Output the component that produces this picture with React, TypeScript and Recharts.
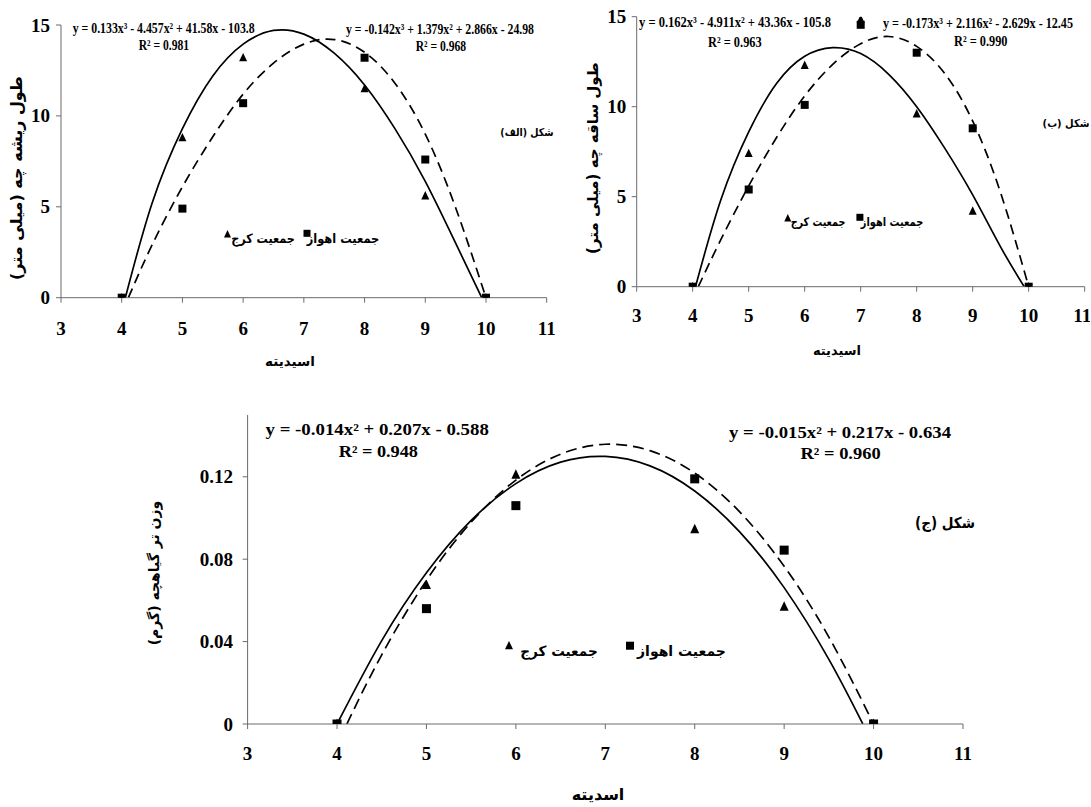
import React from 'react';
import { ComposedChart, Line, Scatter, XAxis, YAxis } from 'recharts';

// pH levels where seedlings were measured
const xKarajA = [4, 5, 6, 8, 9, 10];
const yKarajA = [0, 8.8, 13.2, 11.5, 5.6, 0];
const xAhvazA = [4, 5, 6, 8, 9, 10];
const yAhvazA = [0, 4.9, 10.7, 13.2, 7.6, 0];

const xKarajB = [4, 5, 6, 7, 8, 9, 10];
const yKarajB = [0, 7.4, 12.3, 14.85, 9.6, 4.2, 0];
const xAhvazB = [4, 5, 6, 7, 8, 9, 10];
const yAhvazB = [0, 5.4, 10.1, 14.55, 13.0, 8.8, 0];

const xKarajC = [4, 5, 6, 8, 9, 10];
const yKarajC = [0, 0.0675, 0.121, 0.0946, 0.057, 0];
const xAhvazC = [4, 5, 6, 8, 9, 10];
const yAhvazC = [0, 0.056, 0.106, 0.119, 0.0844, 0];

// trend lines
const xSolidA = [4.06, 4.5, 5, 5.5, 6, 6.5, 7, 7.5, 8, 8.5, 9, 9.5, 9.93];
const ySolidA = [0, 5.2, 9.3, 12.2, 13.95, 14.7, 14.5, 13.45, 11.7, 9.3, 6.4, 3.0, 0];
const xDashA = [4.11, 4.5, 5, 5.5, 6, 6.5, 7, 7.5, 8, 8.5, 9, 9.5, 10];
const yDashA = [0, 2.9, 6.1, 8.85, 11.2, 12.9, 13.95, 14.2, 13.5, 11.8, 9.0, 4.95, 0];

const xSolidB = [4.05, 4.5, 5, 5.5, 6, 6.5, 7, 7.5, 8, 8.5, 9, 9.5, 9.92];
const ySolidB = [0, 4.8, 8.6, 11.3, 12.8, 13.28, 12.95, 11.8, 10.0, 7.7, 5.1, 2.2, 0];
const xDashB = [4.1, 4.5, 5, 5.5, 6, 6.5, 7, 7.5, 8, 8.5, 9, 9.5, 10];
const yDashB = [0, 2.6, 5.6, 8.3, 10.6, 12.35, 13.5, 13.9, 13.35, 11.85, 9.2, 5.2, 0];

const xSolidC = [4, 4.5, 5, 5.5, 6, 6.5, 7, 7.5, 8, 8.5, 9, 9.5, 9.88];
const ySolidC = [0, 0.0405, 0.0734, 0.0988, 0.1167, 0.1271, 0.1299, 0.1253, 0.1131, 0.0934, 0.0662, 0.0314, 0];
const xDashC = [4.11, 4.5, 5, 5.5, 6, 6.5, 7, 7.5, 8, 8.5, 9, 9.5, 10];
const yDashC = [0, 0.0336, 0.0697, 0.098, 0.1184, 0.131, 0.1358, 0.1327, 0.1218, 0.1031, 0.0766, 0.0422, 0];

const xTicks = [3, 4, 5, 6, 7, 8, 9, 10, 11];
const lengthTicks = [0, 5, 10, 15];
const weightTicks = [0, 0.04, 0.08, 0.12];

const zip = (xs: number[], ys: number[]) => xs.map((x, i) => ({ x, y: ys[i] }));

const serif = '"Liberation Serif", "Times New Roman", serif';
const arabic = '"DejaVu Sans", sans-serif';
const axisColor = '#6b6b6b';

const triangle = (s: number) => (p: any) => (
  <path d={`M${p.cx},${p.cy - s * 0.6}L${p.cx + s / 2},${p.cy + s * 0.45}L${p.cx - s / 2},${p.cy + s * 0.45}Z`} fill="#000" />
);
const square = (s: number) => (p: any) => (
  <rect x={p.cx - s / 2} y={p.cy - s / 2} width={s} height={s} fill="#000" />
);

const xTick = (p: any) => (
  <text x={p.x} y={p.y} textAnchor="middle" dominantBaseline="central"
    fontFamily={serif} fontWeight="bold" fontSize={19} fill="#000">
    {p.payload.value}
  </text>
);
const yTick = (p: any) => (
  <text x={p.x} y={p.y} textAnchor="end" dominantBaseline="central"
    fontFamily={serif} fontWeight="bold" fontSize={19} fill="#000">
    {p.payload.value}
  </text>
);

type PanelProps = {
  left: number; top: number; width: number; height: number;
  margin: { top: number; right: number; bottom: number; left: number };
  yWidth: number; yMax: number; yTicks: number[];
  xGap: number; yGap: number; mark: number; dash: string;
  karaj: { x: number; y: number }[]; ahvaz: { x: number; y: number }[];
  solid: { x: number; y: number }[]; dashed: { x: number; y: number }[];
};

function Panel(p: PanelProps) {
  return (
    <div style={{ position: 'absolute', left: p.left, top: p.top }}>
      <ComposedChart width={p.width} height={p.height} margin={p.margin}>
        <XAxis dataKey="x" type="number" domain={[3, 11]} ticks={xTicks} allowDataOverflow
          height={30} tickSize={5} tickMargin={p.xGap} tick={xTick}
          axisLine={{ stroke: axisColor }} tickLine={{ stroke: axisColor }} />
        <YAxis dataKey="y" type="number" domain={[0, p.yMax]} ticks={p.yTicks} allowDataOverflow
          width={p.yWidth} tickSize={5} tickMargin={p.yGap} tick={yTick}
          axisLine={{ stroke: axisColor }} tickLine={{ stroke: axisColor }} />
        <Line data={p.solid} dataKey="y" type="natural" stroke="#000" strokeWidth={1.7}
          dot={false} isAnimationActive={false} />
        <Line data={p.dashed} dataKey="y" type="natural" stroke="#000" strokeWidth={1.7}
          strokeDasharray={p.dash} dot={false} isAnimationActive={false} />
        <Scatter data={p.karaj} dataKey="y" shape={triangle(p.mark)} isAnimationActive={false} />
        <Scatter data={p.ahvaz} dataKey="y" shape={square(p.mark)} isAnimationActive={false} />
      </ComposedChart>
    </div>
  );
}

function Eq({ x, y, len, size, end, children }: { x: number; y: number; len: number; size: number; end?: boolean; children: string }) {
  return (
    <text x={x} y={y} textLength={len} lengthAdjust="spacingAndGlyphs" textAnchor={end ? 'end' : 'start'}
      fontFamily={serif} fontWeight="bold" fontSize={size} fill="#000">
      {children}
    </text>
  );
}

function Fa({ x, y, size, sx = 1, rot, children }: { x: number; y: number; size: number; sx?: number; rot?: boolean; children: string }) {
  return (
    <div dir="rtl" style={{
      position: 'absolute', left: x, top: y, whiteSpace: 'nowrap', lineHeight: 1,
      transform: `translate(-50%, -50%)${rot ? ' rotate(-90deg)' : ''} scaleX(${sx})`,
      fontFamily: arabic, fontWeight: 'bold', fontSize: size, color: '#000'
    }}>
      {children}
    </div>
  );
}

export default function App() {
  return (
    <div style={{ position: 'absolute', left: 0, top: 0, width: 1091, height: 807, background: '#fff', overflow: 'hidden' }}>
      <Panel left={0} top={0} width={580} height={345}
        margin={{ top: 25, right: 33.3, bottom: 17.3, left: 21 }}
        yWidth={40} yMax={15} yTicks={lengthTicks} xGap={25.6} yGap={6} mark={8} dash="10 6"
        karaj={zip(xKarajA, yKarajA)} ahvaz={zip(xAhvazA, yAhvazA)}
        solid={zip(xSolidA, ySolidA)} dashed={zip(xDashA, yDashA)} />
      <Panel left={590} top={0} width={500} height={340}
        margin={{ top: 16.7, right: 5.3, bottom: 23.3, left: 6.7 }}
        yWidth={40} yMax={15} yTicks={lengthTicks} xGap={23.3} yGap={5.5} mark={8} dash="10 6"
        karaj={zip(xKarajB, yKarajB)} ahvaz={zip(xAhvazB, yAhvazB)}
        solid={zip(xSolidB, ySolidB)} dashed={zip(xDashB, yDashB)} />
      <Panel left={180} top={390} width={800} height={400}
        margin={{ top: 25, right: 17, bottom: 36, left: 17.6 }}
        yWidth={50} yMax={0.15} yTicks={weightTicks} xGap={24} yGap={9.6} mark={9} dash="11 6"
        karaj={zip(xKarajC, yKarajC)} ahvaz={zip(xAhvazC, yAhvazC)}
        solid={zip(xSolidC, ySolidC)} dashed={zip(xDashC, yDashC)} />

      <svg width={1091} height={807} style={{ position: 'absolute', left: 0, top: 0, pointerEvents: 'none' }}>
        <Eq x={72.7} y={33} len={182} size={14}>y = 0.133x³ - 4.457x² + 41.58x - 103.8</Eq>
        <Eq x={138.7} y={49.7} len={50.5} size={14}>R² = 0.981</Eq>
        <Eq x={534} y={34} len={188} size={14} end>y = -0.142x³ + 1.379x² + 2.866x - 24.98</Eq>
        <Eq x={415.7} y={51.4} len={50.5} size={14}>R² = 0.968</Eq>

        <Eq x={639} y={26.8} len={192} size={15}>y = 0.162x³ - 4.911x² + 43.36x - 105.8</Eq>
        <Eq x={708} y={47.4} len={53.7} size={15}>R² = 0.963</Eq>
        <Eq x={883} y={28} len={190} size={14}>y = -0.173x³ + 2.116x² - 2.629x - 12.45</Eq>
        <Eq x={954} y={45.8} len={53.5} size={15}>R² = 0.990</Eq>

        <Eq x={265.5} y={434.5} len={223.3} size={16}>y = -0.014x² + 0.207x - 0.588</Eq>
        <Eq x={338.7} y={456.5} len={79.3} size={16}>R² = 0.948</Eq>
        <Eq x={951} y={437.5} len={222} size={16} end>y = -0.015x² + 0.217x - 0.634</Eq>
        <Eq x={800.5} y={458.5} len={80.2} size={16}>R² = 0.960</Eq>

        {triangle(7)({ cx: 227.5, cy: 234.3 })}
        {square(7)({ cx: 307, cy: 233.3 })}
        {triangle(7)({ cx: 787.8, cy: 218.3 })}
        {square(7)({ cx: 859.9, cy: 217.3 })}
        {triangle(8)({ cx: 509, cy: 645.7 })}
        {square(8)({ cx: 630, cy: 645.7 })}
      </svg>

      <Fa x={527} y={131.7} size={11} sx={0.86}>شکل (الف)</Fa>
      <Fa x={263} y={238.3} size={13} sx={0.86}>جمعیت کرج</Fa>
      <Fa x={343} y={238} size={13} sx={0.88}>جمعیت اهواز</Fa>
      <Fa x={16.7} y={178} size={16} rot>طول ریشه چه (میلی متر)</Fa>
      <Fa x={290} y={361.7} size={13.5}>اسیدیته</Fa>

      <Fa x={1066} y={122.7} size={11} sx={0.9}>شکل (ب)</Fa>
      <Fa x={818} y={221.7} size={12} sx={0.8}>جمعیت کرج</Fa>
      <Fa x={891.5} y={221.7} size={12} sx={0.82}>جمعیت اهواز</Fa>
      <Fa x={592.8} y={158} size={15} rot>طول ساقه چه (میلی متر)</Fa>
      <Fa x={837} y={350} size={13}>اسیدیته</Fa>

      <Fa x={944.5} y={522.7} size={15} sx={0.9}>شکل (ج)</Fa>
      <Fa x={559} y={651} size={14} sx={0.97}>جمعیت کرج</Fa>
      <Fa x={681.5} y={651} size={14} sx={1}>جمعیت اهواز</Fa>
      <Fa x={154} y={573} size={14} rot>وزن تر گیاهچه (گرم)</Fa>
      <Fa x={598} y={795} size={16}>اسدیته</Fa>
    </div>
  );
}
